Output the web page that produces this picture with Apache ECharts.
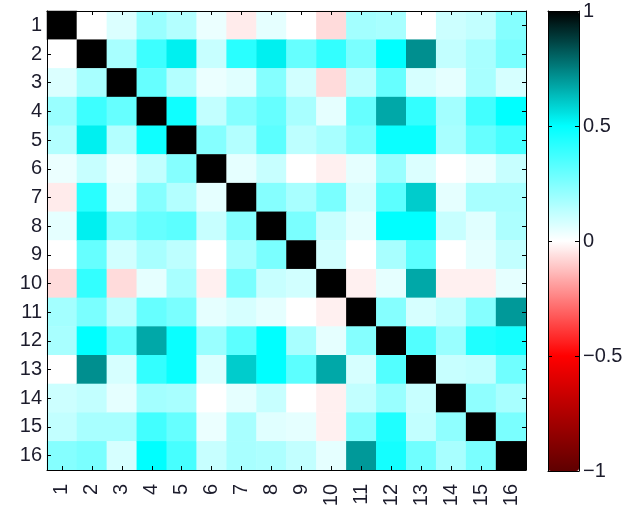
<!DOCTYPE html>
<html>
<head>
<meta charset="utf-8">
<script src="https://cdn.jsdelivr.net/npm/echarts@6/dist/echarts.min.js"></script>
<style>html,body{margin:0;padding:0;background:#fff;}#c{width:631px;height:516px;}</style>
</head>
<body>
<div id="c"></div>
<script>
// Variable labels
const labels = ['1','2','3','4','5','6','7','8','9','10','11','12','13','14','15','16'];
// Upper-triangle correlation values (row i, columns i+1..16); matrix is symmetric, diagonal = 1
const u1  = [0.00,0.07,0.20,0.15,0.04,-0.04,0.05,0.00,-0.07,0.18,0.17,0.00,0.10,0.12,0.24];
const u2  = [0.17,0.38,0.53,0.11,0.42,0.53,0.30,0.40,0.26,0.50,0.72,0.12,0.17,0.26];
const u3  = [0.30,0.15,0.04,0.06,0.24,0.09,-0.07,0.13,0.30,0.08,0.05,0.17,0.08];
const u4  = [0.47,0.12,0.24,0.30,0.17,0.05,0.30,0.67,0.40,0.18,0.37,0.50];
const u5  = [0.24,0.15,0.32,0.13,0.17,0.26,0.48,0.48,0.17,0.30,0.36];
const u6  = [0.05,0.11,0.00,-0.03,0.05,0.20,0.07,0.00,0.04,0.11];
const u7  = [0.24,0.17,0.26,0.08,0.32,0.60,0.05,0.17,0.17];
const u8  = [0.26,0.11,0.05,0.50,0.50,0.11,0.06,0.16];
const u9  = [0.09,0.00,0.17,0.32,0.00,0.05,0.12];
const u10 = [-0.03,0.05,0.67,-0.03,-0.03,0.05];
const u11 = [0.24,0.08,0.12,0.24,0.70];
const u12 = [0.34,0.20,0.44,0.46];
const u13 = [0.11,0.12,0.28];
const u14 = [0.22,0.17];
const u15 = [0.26];
const upper = [u1,u2,u3,u4,u5,u6,u7,u8,u9,u10,u11,u12,u13,u14,u15,[]];
// Colour bar ticks
const cbarTicks = [-1,-0.5,0,0.5,1];

const n = labels.length;
const data = [];
for (let i = 0; i < n; i++) {
  data.push([i, i, 1]);
  upper[i].forEach((v, k) => {
    const j = i + 1 + k;
    data.push([j, i, v]);
    data.push([i, j, v]);
  });
}

const FONT = 'Liberation Sans, Arial, sans-serif';
const TXT = '#1c1c2c';
const lbl = {fontFamily: FONT, fontSize: 20, color: TXT};

const chart = echarts.init(document.getElementById('c'), null, {renderer: 'canvas'});
const catAxisCommon = {
  type: 'category', data: labels,
  axisLine: {show: true, onZero: false, lineStyle: {color: '#000', width: 1}},
  axisTick: {show: true, inside: true, length: 4, alignWithLabel: true, lineStyle: {color: '#000'}},
  splitLine: {show: false}, z: 10
};
chart.setOption({
  backgroundColor: '#fff',
  animation: false,
  grid: [
    {left: 47, top: 11, width: 479, height: 459},
    {left: 548, top: 11, width: 31, height: 460}
  ],
  xAxis: [
    Object.assign({}, catAxisCommon, {gridIndex: 0, position: 'bottom',
      axisLabel: Object.assign({}, lbl, {rotate: 90, margin: 14, interval: 0})}),
    Object.assign({}, catAxisCommon, {gridIndex: 0, position: 'top', axisLabel: {show: false}}),
    {type: 'value', gridIndex: 1, position: 'bottom', min: 0, max: 1, axisLine: {show: true, onZero: false, lineStyle: {color: '#000'}}, axisTick: {show: false}, axisLabel: {show: false}, splitLine: {show: false}, z: 10},
    {type: 'value', gridIndex: 1, position: 'top', min: 0, max: 1, axisLine: {show: true, onZero: false, lineStyle: {color: '#000'}}, axisTick: {show: false}, axisLabel: {show: false}, splitLine: {show: false}, z: 10}
  ],
  yAxis: [
    Object.assign({}, catAxisCommon, {gridIndex: 0, position: 'left', inverse: true,
      axisLabel: Object.assign({}, lbl, {margin: 5, interval: 0})}),
    Object.assign({}, catAxisCommon, {gridIndex: 0, position: 'right', inverse: true, axisLabel: {show: false}}),
    {type: 'value', gridIndex: 1, position: 'right', min: -1, max: 1, interval: 0.5,
      axisLine: {show: true, onZero: false, lineStyle: {color: '#000'}},
      axisTick: {show: true, inside: true, length: 4, lineStyle: {color: '#000'}},
      axisLabel: Object.assign({}, lbl, {margin: 4, formatter: v => (cbarTicks.includes(v) ? String(v).replace('-', '\u2212') : '')}),
      splitLine: {show: false}, z: 10},
    {type: 'value', gridIndex: 1, position: 'left', min: -1, max: 1, interval: 0.5,
      axisLine: {show: true, onZero: false, lineStyle: {color: '#000'}},
      axisTick: {show: true, inside: true, length: 4, lineStyle: {color: '#000'}},
      axisLabel: {show: false}, splitLine: {show: false}, z: 10}
  ],
  visualMap: {
    type: 'continuous', min: -1, max: 1, calculable: false,
    orient: 'vertical', left: 548, top: 11, padding: 0,
    itemWidth: 31, itemHeight: 460, text: null, showLabel: false,
    inRange: {color: ['#5f0000', '#ff0000', '#ffffff', '#00ffff', '#000000']},
    seriesIndex: 0
  },
  series: [{
    type: 'heatmap', xAxisIndex: 0, yAxisIndex: 0, data: data,
    itemStyle: {borderWidth: 0},
    emphasis: {disabled: true}
  }]
});
</script>
</body>
</html>
